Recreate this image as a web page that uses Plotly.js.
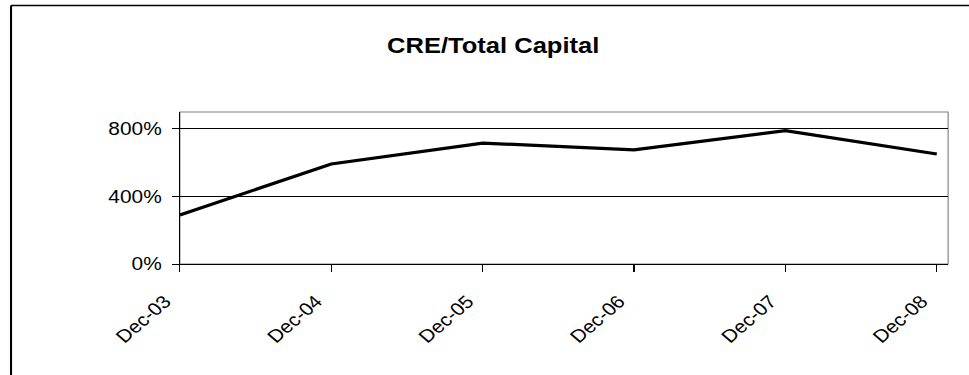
<!DOCTYPE html>
<html>
<head>
<meta charset="utf-8">
<script src="https://cdn.plot.ly/plotly-3.0.1.min.js"></script>
<style>
  html, body { margin: 0; padding: 0; background: #fff; overflow: hidden; }
  #wrap { width: 969px; height: 375px; overflow: hidden; }
  /* the chart is laid out narrower and stretched sideways */
  #chart { width: 835px; height: 375px; transform: scaleX(1.1605); transform-origin: 0 0; }
</style>
</head>
<body>
<div id="wrap"><div id="chart"></div></div>
<script>
// CRE exposure as a share of total capital, year-end
const periods = ['Dec-03', 'Dec-04', 'Dec-05', 'Dec-06', 'Dec-07', 'Dec-08'];
const creToCapital = [290, 592, 716, 676, 790, 651];
const yTickVals = [0, 400, 800];
const yTickText = ['0%', '400%', '800%'];

const W = 835, H = 375;
const M = { l: 155, r: 18, t: 112, b: 111 };
const plotW = W - M.l - M.r, plotH = H - M.t - M.b;
const px2x = px => (px - M.l) / plotW;
const px2y = py => (H - M.b - py) / plotH;

const font = 'Liberation Sans, Arial, sans-serif';

const trace = {
  x: periods,
  y: creToCapital,
  type: 'scatter',
  mode: 'lines',
  line: { color: '#000', width: 3.2 },
  hoverinfo: 'skip'
};

const layout = {
  width: W, height: H,
  margin: M,
  paper_bgcolor: '#fff',
  plot_bgcolor: '#fff',
  showlegend: false,
  font: { family: font, size: 18, color: '#000' },
  title: {
    text: '<b>CRE/Total Capital</b>',
    font: { family: font, size: 22, color: '#000' },
    xref: 'container', x: 0.509, xanchor: 'center',
    yref: 'container', y: 1 - 45 / H, yanchor: 'middle'
  },
  xaxis: {
    type: 'category',
    range: [0, 5.075],
    showgrid: false,
    zeroline: false,
    showline: true, linecolor: '#000', linewidth: 1,
    ticks: 'outside', ticklen: 7, tickwidth: 1, tickcolor: '#000',
    tickangle: -45,
    tickfont: { family: font, size: 18, color: '#000' },
    ticklabelstandoff: 12,
    ticklabelshift: -13
  },
  yaxis: {
    range: [0, 900],
    tickmode: 'array',
    tickvals: yTickVals,
    ticktext: yTickText,
    showgrid: true, gridcolor: '#000', gridwidth: 1,
    zeroline: false,
    showline: true, linecolor: '#000', linewidth: 1,
    ticks: 'outside', ticklen: 6, tickwidth: 1, tickcolor: '#000',
    tickfont: { family: font, size: 18, color: '#000' },
    ticklabelstandoff: 5
  },
  shapes: [
    // plot area border (top and right show in grey)
    { type: 'rect', xref: 'paper', yref: 'paper', x0: 0, x1: 1, y0: 0, y1: 1,
      line: { color: '#808080', width: 1 }, layer: 'below' },
    // outer chart frame
    { type: 'line', xref: 'paper', yref: 'paper',
      x0: px2x(9.5), x1: px2x(9.5), y0: px2y(5.5), y1: px2y(400),
      line: { color: '#000', width: 1.8 } },
    { type: 'line', xref: 'paper', yref: 'paper',
      x0: px2x(9.5), x1: px2x(900), y0: px2y(5.5), y1: px2y(5.5),
      line: { color: '#000', width: 1.6 } }
  ]
};

Plotly.newPlot('chart', [trace], layout, { staticPlot: true, displayModeBar: false });
</script>
</body>
</html>
